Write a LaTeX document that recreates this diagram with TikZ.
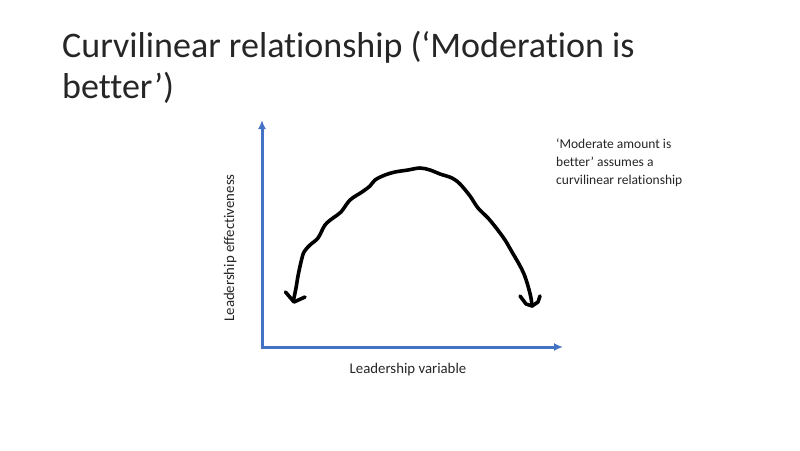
\documentclass[tikz,border=0pt]{standalone}
\usepackage{fontspec}
\setmainfont{Carlito}[Ligatures={NoCommon}]
\usetikzlibrary{calc,arrows.meta}
\definecolor{axisblue}{HTML}{4472C4}
\begin{document}
\begin{tikzpicture}[x=1pt,y=-1pt,
  axisline/.style={draw=axisblue,line width=3pt,-{Latex[length=9pt,width=8pt]}},
  curveline/.style={draw=black,line width=3.6pt,line cap=round,line join=round},
  lbl/.style={inner sep=0pt,font=\fontsize{14.8}{17}\selectfont,text=black!85},
  titletxt/.style={inner sep=0pt,anchor=base west,font=\fontsize{36}{41}\selectfont,text=black!85}]
\useasboundingbox[fill=white] (0,0) rectangle (800,450);
% title
\node[titletxt] (t1) at (62,57) {Curvilinear relationship (‘Moderation is};
\node[titletxt] (t2) at (62,98) {better’)};
% axes
\coordinate (o) at (262,347);
\coordinate (ytop) at (262,120);
\coordinate (xend) at (563,347);
\draw[axisline] (o) -- (ytop);
\draw[axisline] ($(o)+(-1.5,0)$) -- (xend);
% axis labels
\node[lbl,anchor=base] (xl) at (408,373) {Leadership variable};
\node[lbl,anchor=base,rotate=90] (yl) at (234,248) {Leadership effectiveness};
% side text (base anchor = last line)
\node[inner sep=0pt,anchor=base west,align=left,font=\fontsize{13.5}{18}\selectfont,text=black!85] (note) at (556,184)
  {‘Moderate amount is\\better’ assumes a\\curvilinear relationship};
% curve
\draw[curveline] plot[smooth,tension=0.55] coordinates {
 (293.5,300) (296,288) (298,276) (301,262) (304,252) (310,245) (318,238)
 (325,225) (333,218) (341,212) (350,200) (362,192) (370,186) (375,180)
 (385,175) (395,172) (408,170) (420,168) (430,170) (440,174) (452,178)
 (460,184) (470,196) (478,208) (488,218) (497,229) (505,240) (512,252)
 (519,264) (524,274) (528,286) (531,298) (532,306)};
\draw[curveline] (285.5,292) -- (294,302) -- (305,297);
\draw[curveline] (520,296) -- (526,304) -- (532,306) -- (538,302) -- (540,296);
\end{tikzpicture}
\end{document}
